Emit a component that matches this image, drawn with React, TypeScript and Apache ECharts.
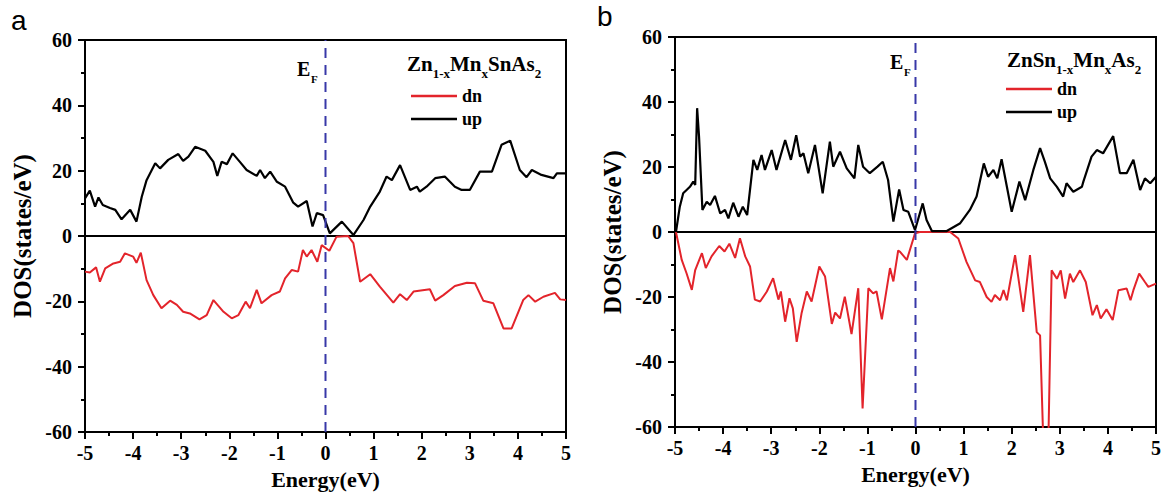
import React, { useEffect, useRef } from 'react';
import * as echarts from 'echarts';

// Panel a: Zn1-xMnxSnAs2
const aUpE = [-5.0, -4.9, -4.79, -4.72, -4.63, -4.48, -4.37, -4.24, -4.06, -3.93, -3.82, -3.72, -3.54, -3.44, -3.27, -3.06, -2.96, -2.85, -2.71, -2.5, -2.33, -2.25, -2.16, -2.05, -1.93, -1.78, -1.64, -1.43, -1.36, -1.26, -1.15, -1.01, -0.84, -0.67, -0.57, -0.39, -0.27, -0.18, -0.05, 0.09, 0.34, 0.58, 0.79, 0.93, 1.13, 1.27, 1.38, 1.55, 1.76, 1.9, 1.96, 2.1, 2.28, 2.48, 2.69, 2.83, 3.0, 3.21, 3.46, 3.66, 3.84, 4.04, 4.18, 4.29, 4.49, 4.74, 4.81, 5.0];
const aUpV = [11.5, 13.9, 9, 11.8, 9.5, 8.6, 8, 5.1, 8, 4.4, 12, 17.1, 22.3, 20.7, 23.3, 25.1, 23, 24.3, 27.3, 26.1, 22.7, 18.4, 22.7, 22, 25.3, 22.7, 20.2, 18.4, 20.2, 17.7, 19.7, 16.6, 15.1, 10.2, 9, 10.7, 2.9, 7, 6.4, 0.8, 4.4, 0.3, 4.9, 9, 13.6, 18.2, 17.1, 21.7, 14.1, 15.1, 13.6, 15.1, 17.7, 18.2, 15.1, 14.1, 14.1, 19.7, 19.7, 27.9, 29.2, 20.2, 18, 20.2, 18.7, 17.7, 19.2, 19.2];
const aDnE = [-5, -4.9, -4.77, -4.69, -4.58, -4.41, -4.27, -4.17, -4.0, -3.93, -3.84, -3.72, -3.58, -3.41, -3.23, -3.09, -2.96, -2.82, -2.62, -2.47, -2.33, -2.12, -1.95, -1.81, -1.66, -1.57, -1.43, -1.33, -1.12, -0.95, -0.84, -0.7, -0.57, -0.47, -0.39, -0.29, -0.17, -0.08, 0.08, 0.23, 0.47, 0.58, 0.72, 0.93, 1.13, 1.41, 1.55, 1.69, 1.83, 2.17, 2.28, 2.45, 2.69, 2.94, 3.11, 3.28, 3.49, 3.7, 3.87, 4.11, 4.22, 4.36, 4.53, 4.77, 4.88, 5.0];
const aDnV = [-10.9, -11.2, -9.6, -14, -9.9, -8.4, -7.9, -5.3, -6.3, -8.2, -5.1, -13.5, -18.1, -22.1, -19.8, -21.1, -23.2, -23.7, -25.5, -24.2, -19.6, -23.2, -25.2, -24.2, -20.1, -22.1, -16.5, -20.6, -18.1, -17, -13, -10.4, -10.9, -4.3, -6.3, -4.3, -7.9, -2.8, -4.5, -0.2, 0, -2.2, -14, -11.7, -15.5, -20.4, -17.8, -19.6, -17, -16.3, -19.8, -18.1, -15.3, -14.3, -14.5, -19.8, -20.6, -28.3, -28.3, -19.6, -18.1, -20.1, -18.6, -17.4, -19.4, -19.6];

// Panel b: ZnSn1-xMnxAs2
const bUpE = [-4.98, -4.9, -4.83, -4.69, -4.62, -4.58, -4.54, -4.5, -4.43, -4.34, -4.27, -4.17, -4.06, -3.96, -3.89, -3.79, -3.68, -3.59, -3.5, -3.37, -3.29, -3.2, -3.13, -2.99, -2.89, -2.71, -2.59, -2.48, -2.4, -2.33, -2.23, -2.09, -1.93, -1.78, -1.71, -1.57, -1.43, -1.27, -1.19, -1.09, -0.95, -0.79, -0.68, -0.57, -0.46, -0.34, -0.25, -0.15, -0.01, 0.15, 0.23, 0.34, 0.65, 0.93, 1.13, 1.27, 1.42, 1.51, 1.62, 1.7, 1.79, 1.9, 2.0, 2.16, 2.28, 2.45, 2.59, 2.69, 2.8, 2.94, 3.07, 3.14, 3.28, 3.46, 3.49, 3.66, 3.77, 3.9, 4.11, 4.25, 4.39, 4.53, 4.67, 4.77, 4.88, 5.0];
const bUpV = [0, 7.8, 11.9, 13.9, 15.5, 14.5, 38.1, 29.3, 6.8, 9.3, 8.3, 11.1, 5.7, 6.8, 4.2, 9.0, 4.7, 7.8, 5.2, 22.2, 19.1, 23.7, 19.1, 25.2, 19.1, 28.3, 22.2, 29.8, 23.2, 24.2, 18.1, 26.8, 11.9, 27.8, 20.1, 24.7, 19.6, 16.5, 26.8, 20.1, 18.1, 20.1, 21.6, 16, 3.2, 13.1, 6.8, 6.2, 0.6, 8.8, 3.7, 0.3, 0.3, 2.7, 6.8, 10.9, 21.1, 17, 19.1, 16.5, 22.4, 13.9, 6.2, 15.5, 9.8, 19.1, 25.8, 21.6, 16.5, 13.9, 10.9, 15, 12.4, 13.9, 15.5, 23.2, 25.2, 24.2, 29.5, 18.1, 18.1, 22.2, 12.9, 16.5, 15, 17];
const bDnE = [-4.98, -4.86, -4.76, -4.65, -4.58, -4.44, -4.36, -4.24, -4.08, -3.97, -3.87, -3.75, -3.65, -3.54, -3.44, -3.34, -3.23, -3.09, -2.96, -2.85, -2.8, -2.71, -2.62, -2.55, -2.47, -2.37, -2.26, -2.16, -2.0, -1.88, -1.74, -1.67, -1.57, -1.47, -1.33, -1.19, -1.1, -0.98, -0.88, -0.81, -0.7, -0.53, -0.46, -0.36, -0.32, -0.18, -0.01, 0.09, 0.72, 0.89, 1.06, 1.24, 1.34, 1.48, 1.58, 1.65, 1.76, 1.83, 1.9, 2.07, 2.24, 2.38, 2.52, 2.59, 2.66, 2.71, 2.76, 2.83, 2.94, 3.02, 3.11, 3.21, 3.28, 3.42, 3.54, 3.68, 3.77, 3.85, 3.97, 4.1, 4.22, 4.39, 4.47, 4.53, 4.65, 4.77, 4.84, 5.0];
const bDnV = [0, -8.6, -12.7, -17.8, -11.7, -6.5, -11.1, -7.5, -4.3, -6.0, -3.6, -8.0, -1.9, -7.5, -10.6, -20.8, -21.4, -18.3, -14.2, -20.8, -18.3, -27.6, -20.4, -23.5, -33.8, -25.1, -18.3, -21.4, -10.6, -13.7, -28.3, -24.8, -26.6, -19.9, -31.4, -17.3, -54.3, -17.3, -18.9, -18.3, -26.9, -11.1, -15.2, -5.7, -6.1, -8.6, -0.4, 0, 0, -2.0, -9.2, -14.9, -15.4, -20.0, -21.5, -19.4, -21.0, -17.9, -21.0, -7.1, -24.6, -7.1, -30.8, -31.8, -66, -66, -66, -11.8, -14.4, -11.8, -20.5, -12.8, -15.4, -11.8, -15.4, -25.6, -22.5, -26.6, -23.8, -27.1, -17.9, -17.4, -21.0, -17.9, -12.8, -15.4, -16.9, -15.9];

const xTicksRange = [-5, 5];
const yTicksRange = [-60, 60];
const legendNames = ['dn', 'up'];

const FONT = 'Liberation Serif';
const RED = '#e3242b';
const BLUE = '#3838a8';

const pairs = (e: number[], v: number[]) => e.map((x, i) => [x, v[i]]);

export default function App() {
  const ref = useRef<HTMLDivElement>(null);
  useEffect(() => {
    const chart = echarts.init(ref.current as HTMLDivElement, null, { renderer: 'svg' });
    const lbl = { fontFamily: FONT, fontWeight: 'bold' as const, color: '#000' };
    const tickRich = { t: { fontFamily: FONT, fontWeight: 'bold', fontSize: 20, color: '#000' } };
    const xAxisCfg = (gridIndex: number) => ({
      type: 'value', gridIndex, min: xTicksRange[0], max: xTicksRange[1], interval: 1,
      name: 'Energy(eV)', nameLocation: 'middle', nameGap: 36,
      nameTextStyle: { ...lbl, fontSize: 22 },
      axisLine: { show: true, onZero: false, lineStyle: { color: '#000', width: 2 } },
      axisTick: { show: true, inside: false, length: 7, lineStyle: { color: '#000', width: 2 } },
      minorTick: { show: true, splitNumber: 2, length: 4, lineStyle: { color: '#000', width: 2 } },
      axisLabel: { ...lbl, fontSize: 20, margin: 11, formatter: '{t|{value}}', rich: tickRich },
      splitLine: { show: false },
    });
    const yAxisCfg = (gridIndex: number) => ({
      type: 'value', gridIndex, min: yTicksRange[0], max: yTicksRange[1], interval: 20,
      name: 'DOS(states/eV)', nameLocation: 'middle', nameGap: 50,
      nameTextStyle: { ...lbl, fontSize: 25 },
      axisLine: { show: true, onZero: false, lineStyle: { color: '#000', width: 2 } },
      axisTick: { show: true, inside: false, length: 7, lineStyle: { color: '#000', width: 2 } },
      minorTick: { show: true, splitNumber: 2, length: 4, lineStyle: { color: '#000', width: 2 } },
      axisLabel: { ...lbl, fontSize: 20, margin: 13, formatter: '{t|{value}}', rich: tickRich },
      splitLine: { show: false },
    });
    const panelSeries = (idx: number, dn: number[][], up: number[][]) => [
      { type: 'line', xAxisIndex: idx, yAxisIndex: idx, data: [[-5, 0], [5, 0]], symbol: 'none', silent: true,
        lineStyle: { color: '#000', width: 2 }, z: 1 },
      { name: 'dn', type: 'line', xAxisIndex: idx, yAxisIndex: idx, data: dn, symbol: 'none', clip: true,
        lineStyle: { color: RED, width: 2 }, itemStyle: { color: RED }, z: 2 },
      { name: 'up', type: 'line', xAxisIndex: idx, yAxisIndex: idx, data: up, symbol: 'none', clip: true,
        lineStyle: { color: '#000', width: 2.2 }, itemStyle: { color: '#000' }, z: 3 },
      { type: 'line', xAxisIndex: idx, yAxisIndex: idx, data: [[0, -60], [0, 60]], symbol: 'none', silent: true,
        lineStyle: { color: BLUE, width: 2, type: [10, 7] }, z: 4 },
    ];
    const legendCfg = (left: number, top: number) => ({
      data: legendNames.map((n) => ({ name: n, icon: 'rect' })), orient: 'vertical', left, top,
      itemWidth: 46, itemHeight: 2.5, itemGap: 3,
      selectedMode: false,
      textStyle: { ...lbl, fontSize: 18, lineHeight: 20 },
    });
    const rich = {
      m: { fontFamily: FONT, fontWeight: 'bold', fontSize: 21, lineHeight: 22, fill: '#000', verticalAlign: 'top' },
      s: { fontFamily: FONT, fontWeight: 'bold', fontSize: 13, lineHeight: 13, fill: '#000', verticalAlign: 'top', padding: [14, 0, 0, 0] },
    };
    const option = {
      animation: false,
      backgroundColor: '#fff',
      textStyle: { fontFamily: FONT },
      grid: [
        { left: 85, top: 40, width: 481, height: 392, show: true, borderColor: '#000', borderWidth: 2, backgroundColor: 'transparent' },
        { left: 675, top: 37, width: 481, height: 390, show: true, borderColor: '#000', borderWidth: 2, backgroundColor: 'transparent' },
      ],
      xAxis: [xAxisCfg(0), xAxisCfg(1)],
      yAxis: [yAxisCfg(0), yAxisCfg(1)],
      legend: [legendCfg(406, 81), legendCfg(1001, 74)],
      series: [
        ...panelSeries(0, pairs(aDnE, aDnV), pairs(aUpE, aUpV)),
        ...panelSeries(1, pairs(bDnE, bDnV), pairs(bUpE, bUpV)),
      ],
      graphic: [
        { type: 'text', x: 11, y: 6, style: { text: 'a', fontFamily: 'Liberation Sans', fontSize: 28, fill: '#000' } },
        { type: 'text', x: 597, y: 2, style: { text: 'b', fontFamily: 'Liberation Sans', fontSize: 28, fill: '#000' } },
        { type: 'text', x: 297, y: 59, style: { text: 'E', fontFamily: FONT, fontWeight: 'bold', fontSize: 20, fill: '#000' } },
        { type: 'text', x: 311, y: 73, style: { text: 'F', fontFamily: FONT, fontWeight: 'bold', fontSize: 11, fill: '#000' } },
        { type: 'text', x: 890, y: 52, style: { text: 'E', fontFamily: FONT, fontWeight: 'bold', fontSize: 20, fill: '#000' } },
        { type: 'text', x: 904, y: 66, style: { text: 'F', fontFamily: FONT, fontWeight: 'bold', fontSize: 11, fill: '#000' } },
        { type: 'text', x: 407, y: 53, style: { text: '{m|Zn}{s|1-x}{m|Mn}{s|x}{m|SnAs}{s|2}', rich } },
        { type: 'text', x: 1007, y: 49, style: { text: '{m|ZnSn}{s|1-x}{m|Mn}{s|x}{m|As}{s|2}', rich } },
      ],
    };
    chart.setOption(option as any);
    return () => chart.dispose();
  }, []);
  return <div ref={ref} style={{ position: 'absolute', left: 0, top: 0, width: 1166, height: 497, background: '#fff' }} />;
}
